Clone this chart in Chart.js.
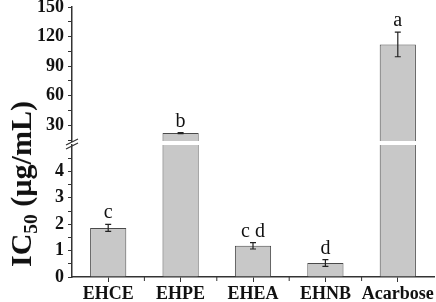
<!DOCTYPE html>
<html>
<head>
<meta charset="utf-8">
<script src="https://cdn.jsdelivr.net/npm/chart.js@4.4.0/dist/chart.umd.min.js"></script>
<style>
  html, body { margin: 0; padding: 0; background: #fff; }
  #wrap { position: relative; width: 436px; height: 302px; overflow: hidden; }
  #topBox { position: absolute; left: 0; top: 0; width: 436px; height: 150px; z-index: 2; }
  #botBox { position: absolute; left: 0; top: 141px; width: 436px; height: 161px; z-index: 1; }
  #ytitle {
    position: absolute; left: 21px; top: 184px; z-index: 3;
    transform: translate(-50%, -50%) rotate(-90deg);
    font: bold 30px 'Liberation Serif', 'Times New Roman', serif;
    white-space: nowrap; color: #111;
  }
  #ytitle sub { font-size: 0.65em; vertical-align: -0.3em; line-height: 0; }
</style>
</head>
<body>
<div id="wrap">
  <div id="ytitle">IC<sub>50</sub> (µg/mL)</div>
  <div id="topBox"><canvas id="topChart" width="436" height="150"></canvas></div>
  <div id="botBox"><canvas id="botChart" width="436" height="161"></canvas></div>
</div>
<script>
const categories = ['EHCE', 'EHPE', 'EHEA', 'EHNB', 'Acarbose'];
const ic50 = [1.86, 22.0, 1.18, 0.53, 112];
const ic50Err = [0.13, 0.5, 0.12, 0.13, 12.5];
const groups = ['c', 'b', 'c d', 'd', 'a'];
const upperTicks = [15, 30, 45, 60, 75, 90, 105, 120, 135, 150];
const lowerTicks = [0, 0.5, 1, 1.5, 2, 2.5, 3, 3.5, 4, 4.5];

const serif = "'Liberation Serif', 'Times New Roman', serif";
const ink = '#333';

// error bars + significance letters, only inside the scale's own range
const errorPlugin = {
  id: 'errors',
  afterDatasetsDraw(chart) {
    const ctx = chart.ctx, x = chart.scales.x, y = chart.scales.y;
    ctx.save();
    ctx.strokeStyle = '#222';
    ctx.lineWidth = 1.2;
    ic50.forEach((v, i) => {
      const hi = v + ic50Err[i], lo = v - ic50Err[i];
      if (v < y.min || v > y.max) return;
      const px = x.getPixelForValue(i);
      const yHi = y.getPixelForValue(hi), yLo = y.getPixelForValue(lo);
      ctx.beginPath();
      ctx.moveTo(px, yHi); ctx.lineTo(px, yLo);
      ctx.moveTo(px - 3, yHi); ctx.lineTo(px + 3, yHi);
      ctx.moveTo(px - 3, yLo); ctx.lineTo(px + 3, yLo);
      ctx.stroke();
    });
    ctx.fillStyle = '#111';
    ctx.font = '20px ' + serif;
    ctx.textAlign = 'center';
    ctx.textBaseline = 'alphabetic';
    ic50.forEach((v, i) => {
      const hi = v + ic50Err[i];
      if (hi < y.min || hi > y.max) return;
      const px = x.getPixelForValue(i);
      ctx.fillText(groups[i], px, y.getPixelForValue(hi) - 6);
    });
    ctx.restore();
  }
};

// "//" break mark on the y axis
const breakPlugin = {
  id: 'axisBreak',
  afterDraw(chart) {
    const ctx = chart.ctx, left = chart.chartArea.left, b = chart.chartArea.bottom;
    ctx.save();
    ctx.strokeStyle = ink;
    ctx.lineWidth = 1.2;
    ctx.beginPath();
    [0, 4].forEach(k => {
      ctx.moveTo(left - 6, b + 4 + k);
      ctx.lineTo(left + 6, b - 2 + k);
    });
    ctx.stroke();
    ctx.restore();
  }
};

// small ticks between categories
const minorXPlugin = {
  id: 'minorX',
  afterDraw(chart) {
    const ctx = chart.ctx, x = chart.scales.x, b = chart.chartArea.bottom;
    const step = x.getPixelForValue(1) - x.getPixelForValue(0);
    ctx.save();
    ctx.strokeStyle = ink;
    ctx.lineWidth = 1;
    ctx.beginPath();
    for (let i = 1; i < categories.length; i++) {
      const px = x.getPixelForValue(i) - step / 2;
      ctx.moveTo(px, b); ctx.lineTo(px, b + 4);
    }
    ctx.stroke();
    ctx.restore();
  }
};

function barDataset() {
  return {
    data: ic50,
    backgroundColor: '#c8c8c8',
    borderColor: '#4a4a4a',
    borderWidth: 1,
    barPercentage: 0.5,
    categoryPercentage: 1,
    clip: 0
  };
}

function yScale(min, max, tickList, labelFn) {
  return {
    min: min, max: max,
    afterBuildTicks: s => { s.ticks = tickList.map(v => ({ value: v })); },
    afterFit: s => { s.width = 72; s.paddingTop = 0; s.paddingBottom = 0; },
    border: { display: true, color: ink, width: 1.5 },
    grid: { display: true, drawOnChartArea: false, drawTicks: true, tickLength: 4, color: ink },
    ticks: {
      padding: 4, color: '#111', autoSkip: false,
      font: { family: serif, size: 18, weight: 'bold' },
      callback: labelFn
    }
  };
}

new Chart(document.getElementById('topChart'), {
  type: 'bar',
  data: { labels: categories, datasets: [barDataset()] },
  options: {
    responsive: false, animation: false,
    layout: { padding: { top: 7, bottom: 9, left: 0, right: 2 } },
    plugins: { legend: { display: false }, tooltip: { enabled: false } },
    scales: {
      x: { display: false, offset: true },
      y: yScale(14, 150, upperTicks, v => (v % 30 === 0 ? v : ''))
    }
  },
  plugins: [errorPlugin, breakPlugin]
});

new Chart(document.getElementById('botChart'), {
  type: 'bar',
  data: { labels: categories, datasets: [barDataset()] },
  options: {
    responsive: false, animation: false,
    layout: { padding: { top: 4, bottom: 0, left: 0, right: 2 } },
    plugins: { legend: { display: false }, tooltip: { enabled: false } },
    scales: {
      x: {
        offset: true,
        afterFit: s => { s.height = 25; s.paddingLeft = 0; s.paddingRight = 0; },
        border: { display: true, color: ink, width: 1.5 },
        grid: { display: true, offset: false, drawOnChartArea: false, tickLength: 5, color: ink },
        ticks: {
          padding: 2, color: '#111', maxRotation: 0, autoSkip: false,
          font: { family: serif, size: 18, weight: 'bold' }
        }
      },
      y: yScale(0, 5, lowerTicks, v => (Number.isInteger(v) ? v : ''))
    }
  },
  plugins: [errorPlugin, minorXPlugin]
});
</script>
</body>
</html>
